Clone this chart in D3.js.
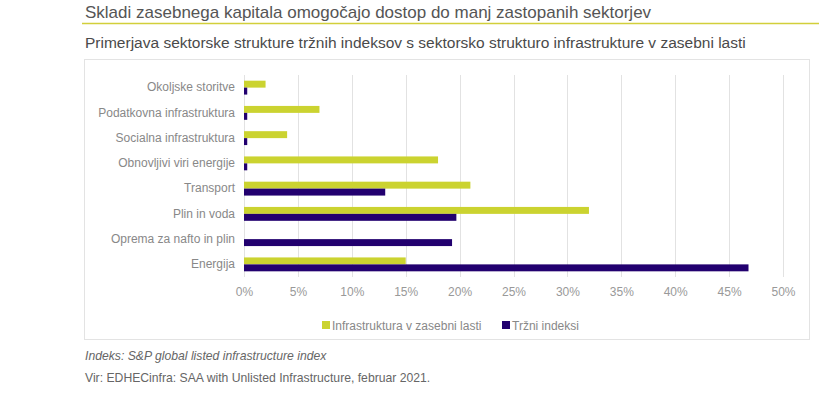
<!DOCTYPE html>
<html>
<head>
<meta charset="utf-8">
<script src="https://cdn.jsdelivr.net/npm/d3@7"></script>
<style>
  body { margin: 0; background: #fff; font-family: Arial, "Liberation Sans", sans-serif; }
  svg text { font-family: Arial, "Liberation Sans", sans-serif; }
</style>
</head>
<body>
<svg width="819" height="394"></svg>
<script>
const categories = ['Okoljske storitve', 'Podatkovna infrastruktura', 'Socialna infrastruktura',
    'Obnovljivi viri energije', 'Transport', 'Plin in voda', 'Oprema za nafto in plin', 'Energija'];
const privateInfra = [2, 7, 4, 18, 21, 32, 0, 15];
const marketIndex = [0.3, 0.3, 0.3, 0.3, 13.1, 19.7, 19.3, 46.8];
const seriesNames = ['Infrastruktura v zasebni lasti', 'Tržni indeksi'];
const tickValues = [0, 5, 10, 15, 20, 25, 30, 35, 40, 45, 50];

const colors = ['#cbd330', '#22006f'];
const rows = categories.map((c, i) => ({ cat: c, vals: [privateInfra[i], marketIndex[i]] }));

const svg = d3.select('svg');

// header
svg.append('text')
    .attr('x', 85).attr('y', 18)
    .style('font-size', '17px').attr('fill', '#555')
    .text('Skladi zasebnega kapitala omogočajo dostop do manj zastopanih sektorjev');
svg.append('line')
    .attr('x1', 82).attr('x2', 819).attr('y1', 23.5).attr('y2', 23.5)
    .attr('stroke', '#d2cf3a').attr('stroke-width', 1.5);
svg.append('text')
    .attr('x', 85).attr('y', 48)
    .style('font-size', '15.5px').attr('fill', '#4a4a4a')
    .text('Primerjava sektorske strukture tržnih indeksov s sektorsko strukturo infrastrukture v zasebni lasti');

// chart frame
svg.append('rect')
    .attr('x', 84.5).attr('y', 59.5).attr('width', 725).attr('height', 280)
    .attr('fill', 'none').attr('stroke', '#e3e3e3');

const xScale = d3.scaleLinear().domain([0, 50]).range([244, 783]);
const yScale = d3.scaleBand().domain(categories).range([75, 277])
    .paddingInner(0.45).paddingOuter(0.225);
const ySub = d3.scaleBand().domain([0, 1]).range([0, yScale.bandwidth()]);

// grid
svg.append('g')
    .selectAll('line')
    .data(tickValues)
    .enter()
    .append('line')
    .attr('x1', d => Math.round(xScale(d)) + 0.5)
    .attr('x2', d => Math.round(xScale(d)) + 0.5)
    .attr('y1', 75).attr('y2', 277)
    .attr('stroke', '#e2e2e2');

const xAxis = d3.axisBottom(xScale)
    .tickValues(tickValues)
    .tickSize(0)
    .tickPadding(10)
    .tickFormat(d => d + '%');

svg.append('g')
    .attr('transform', 'translate(0, 277)')
    .call(xAxis)
    .call(g => g.select('.domain').remove())
    .selectAll('text')
    .style('font-size', '12px')
    .attr('fill', '#999');

const yAxis = d3.axisLeft(yScale).tickSize(0).tickPadding(9);
svg.append('g')
    .attr('transform', 'translate(244, 0)')
    .call(yAxis)
    .call(g => g.select('.domain').remove())
    .selectAll('text')
    .style('font-size', '12px')
    .attr('fill', '#888');

const groups = svg.selectAll('.bar')
    .data(rows)
    .enter()
    .append('g')
    .classed('bar', true)
    .attr('transform', d => `translate(0, ${yScale(d.cat)})`);

groups.selectAll('rect')
    .data(d => d.vals.map((v, k) => ({ v, k })))
    .enter()
    .append('rect')
    .attr('x', xScale(0))
    .attr('y', d => ySub(d.k))
    .attr('height', ySub.bandwidth())
    .attr('width', d => xScale(d.v) - xScale(0))
    .attr('fill', d => colors[d.k]);

// legend
const legendX = [322, 502];
const legend = svg.selectAll('.legend')
    .data(seriesNames)
    .enter()
    .append('g')
    .classed('legend', true)
    .attr('transform', (d, i) => `translate(${legendX[i]}, 321)`);
legend.append('rect')
    .attr('width', 8).attr('height', 8)
    .attr('fill', (d, i) => colors[i]);
legend.append('text')
    .attr('x', 10).attr('y', 8.5)
    .style('font-size', '12px').attr('fill', '#888')
    .text(d => d);

// notes
svg.append('text')
    .attr('x', 85).attr('y', 360)
    .style('font-size', '12.2px').style('font-style', 'italic').attr('fill', '#666')
    .text('Indeks: S&P global listed infrastructure index');
svg.append('text')
    .attr('x', 85).attr('y', 382)
    .style('font-size', '12.2px').attr('fill', '#666')
    .text('Vir: EDHECinfra: SAA with Unlisted Infrastructure, februar 2021.');
</script>
</body>
</html>
